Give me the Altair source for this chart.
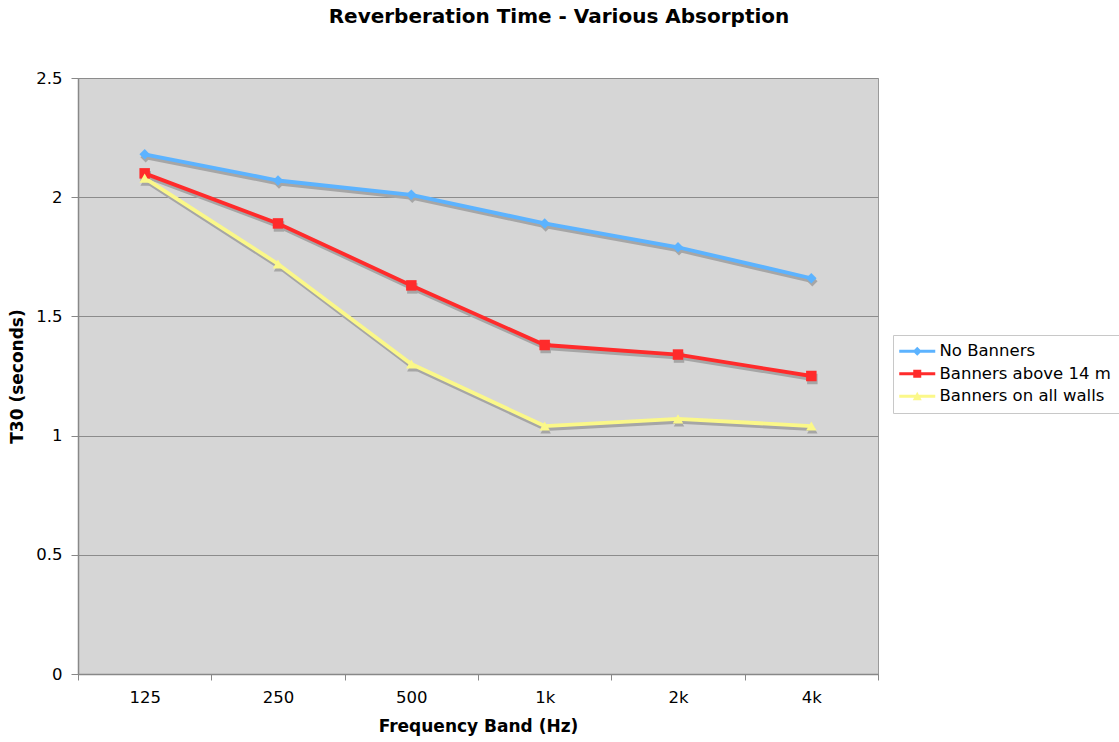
import altair as alt
import pandas as pd

# Octave-band reverberation times (T30, seconds) for three absorption scenarios
bands = ["125", "250", "500", "1k", "2k", "4k"]
no_banners = [2.18, 2.07, 2.01, 1.89, 1.79, 1.66]
banners_above_14m = [2.10, 1.89, 1.63, 1.38, 1.34, 1.25]
banners_all_walls = [2.08, 1.72, 1.30, 1.04, 1.07, 1.04]

series_names = ["No Banners", "Banners above 14 m", "Banners on all walls"]
series_colors = ["#5cb3ff", "#ff2b2b", "#fbf889"]
point_shapes = ["diamond", "square", "triangle-up"]

# legend glyphs: a short line with the series marker on it
legend_glyphs = [
    "M-3.6,-0.3H3.6V0.3H-3.6Z M0,-0.9L0.9,0L0,0.9L-0.9,0Z",
    "M-3.6,-0.3H3.6V0.3H-3.6Z M-0.8,-0.8H0.8V0.8H-0.8Z",
    "M-3.6,-0.3H3.6V0.3H-3.6Z M0,-0.9L0.9,0.8H-0.9Z",
]

rows = []
for name, values in zip(series_names, [no_banners, banners_above_14m, banners_all_walls]):
    for band, v in zip(bands, values):
        rows.append({"band": band, "t30": v, "series": name})
df = pd.DataFrame(rows)

FONT = "DejaVu Sans"

x_enc = alt.X(
    "band:N",
    sort=bands,
    scale=alt.Scale(paddingInner=0, paddingOuter=0),
    axis=alt.Axis(
        title="Frequency Band (Hz)",
        labelAngle=0,
        tickBand="extent",
        tickSize=6,
        tickColor="#888888",
        domainColor="#888888",
        labelPadding=9,
        titlePadding=13,
        grid=False,
    ),
)
y_enc = alt.Y(
    "t30:Q",
    scale=alt.Scale(domain=[0, 2.5], nice=False),
    axis=alt.Axis(
        title="T30 (seconds)",
        values=[0, 0.5, 1, 1.5, 2, 2.5],
        format="~g",
        tickSize=7,
        tickColor="#888888",
        domainColor="#888888",
        labelPadding=9,
        titlePadding=9,
        grid=True,
        gridColor="#8c8c8c",
        gridWidth=1,
    ),
)

color_scale = alt.Scale(domain=series_names, range=series_colors)

base = alt.Chart(df)

shadow_lines = base.mark_line(color="#a6a6a6", strokeWidth=3.8, xOffset=1, yOffset=3).encode(
    x=x_enc, y=y_enc, detail="series:N"
)
shadow_points = base.mark_point(
    filled=True, color="#a6a6a6", opacity=1, size=110, xOffset=1, yOffset=3
).encode(
    x=x_enc,
    y=y_enc,
    shape=alt.Shape("series:N", scale=alt.Scale(domain=series_names, range=point_shapes), legend=None),
)

lines = base.mark_line(strokeWidth=3.8).encode(
    x=x_enc,
    y=y_enc,
    color=alt.Color("series:N", scale=color_scale, legend=None),
)

points = base.mark_point(filled=True, opacity=1, size=110).encode(
    x=x_enc,
    y=y_enc,
    color=alt.Color("series:N", scale=color_scale, legend=None),
    shape=alt.Shape("series:N", scale=alt.Scale(domain=series_names, range=point_shapes), legend=None),
)

# empty layer that only carries the legend
legend_layer = base.transform_filter("false").mark_point(filled=True, opacity=1, size=100).encode(
    x=x_enc,
    y=y_enc,
    color=alt.Color(
        "series:N",
        scale=color_scale,
        legend=alt.Legend(
            title=None,
            orient="none",
            legendX=815,
            legendY=257,
            labelFont=FONT,
            labelFontSize=16.5,
            labelColor="#000000",
            symbolSize=100,
            symbolOffset=8,
            labelOffset=14,
            symbolStrokeWidth=0,
            rowPadding=5.5,
            padding=8,
            strokeColor="#c8c8c8",
            fillColor="#ffffff",
            labelLimit=300,
        ),
    ),
    shape=alt.Shape(
        "series:N",
        scale=alt.Scale(domain=series_names, range=legend_glyphs),
        legend=alt.Legend(title=None, orient="none", legendX=815, legendY=257),
    ),
)

chart = (
    alt.layer(shadow_lines, shadow_points, lines, points, legend_layer)
    .resolve_scale(color="independent", shape="independent")
    .properties(
        width=800,
        height=596,
        autosize=alt.AutoSizeParams(type="none"),
        padding={"left": 78, "top": 78, "right": 241, "bottom": 68},
        title=alt.TitleParams(
            "Reverberation Time - Various Absorption",
            font=FONT,
            fontSize=20,
            fontWeight="bold",
            color="#000000",
            anchor="middle",
            dx=81,
            offset=43,
        ),
        background="#ffffff",
    )
    .configure_view(fill="#d6d6d6", stroke="#9a9a9a", strokeWidth=1)
    .configure_axis(
        labelFont=FONT,
        labelFontSize=16.5,
        labelColor="#000000",
        titleFont=FONT,
        titleFontSize=17,
        titleFontWeight="bold",
        titleColor="#000000",
        domainWidth=1.5,
    )
)

chart.save("out.html", embed_options={"renderer": "svg", "actions": False})
